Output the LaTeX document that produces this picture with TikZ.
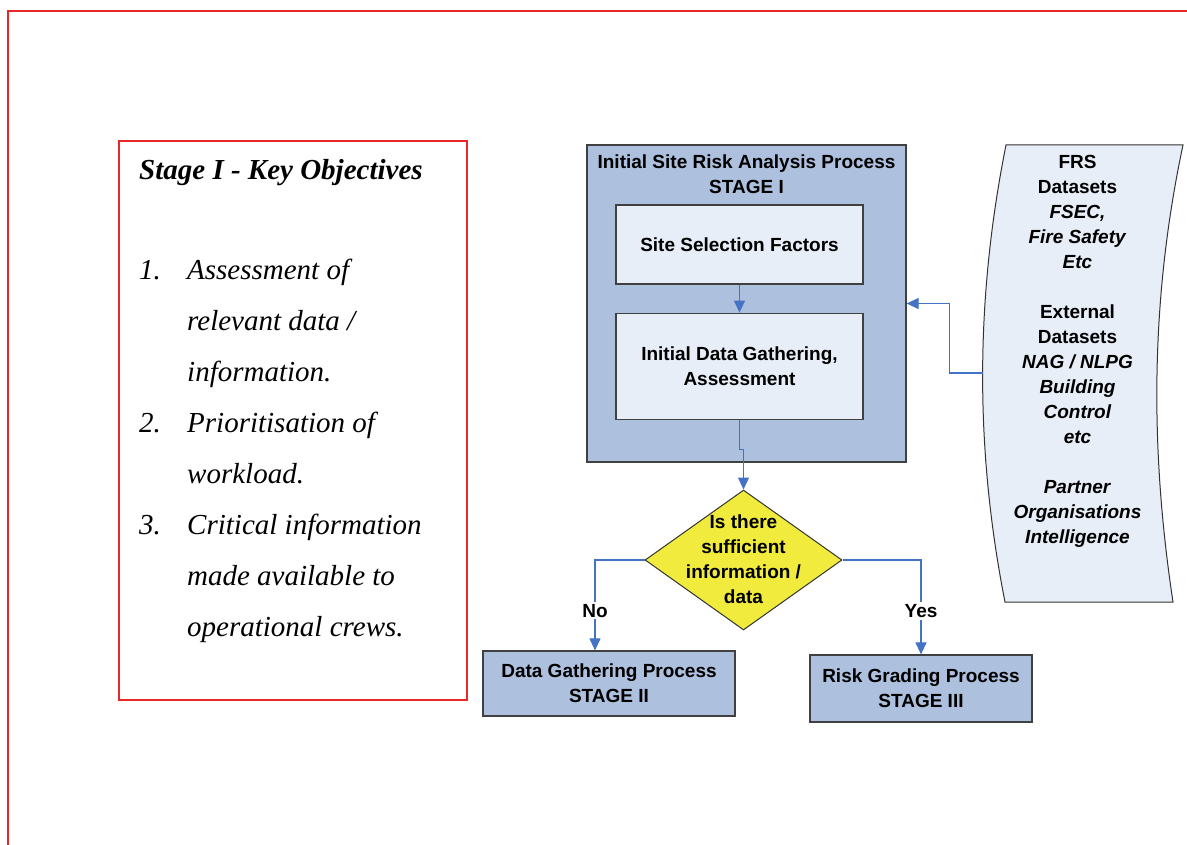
\documentclass[tikz,border=0pt]{standalone}
\usepackage{fontspec}
\setmainfont{Liberation Serif}
\setsansfont{Liberation Sans}
\usetikzlibrary{
  	positioning,
  	arrows.meta,
  	shapes.geometric,
  	calc
  }
\definecolor{stageblue}{RGB}{173,192,222}
\definecolor{paleblue}{RGB}{232,238,247}
\definecolor{flowblue}{RGB}{68,114,196}
\definecolor{framered}{RGB}{232,40,40}
\definecolor{checkyellow}{RGB}{240,235,60}
\tikzstyle{sanstext}=[font=\sffamily\bfseries\fontsize{19}{25}\selectfont,align=center]
\tikzstyle{stagebox}=[draw=black!75,fill=stageblue,line width=1.2pt,inner sep=0pt,sanstext]
\tikzstyle{taskbox}=[draw=black!75,fill=paleblue,line width=1.2pt,inner sep=0pt,sanstext]
\tikzstyle{checkbox}=[diamond,draw=black!80,fill=checkyellow,line width=1pt,inner sep=0pt,minimum width=197pt,minimum height=140pt]
\tikzstyle{flow}=[flowblue,line width=1.1pt,-{Triangle[length=12pt,width=11pt]}]
\tikzstyle{flowlabel}=[fill=white,text=black,inner sep=2pt,sanstext]

\begin{document}
\begin{tikzpicture}[x=1pt,y=-1pt]
  \useasboundingbox (0,0) rectangle (1187,845);
  \draw [framered,line width=1.5pt] (8,845) -- (8,11) -- (1187,11);
%
  \node [draw=framered,line width=1.5pt,minimum width=348pt,minimum height=559pt] (obj) at (293,420.5) {};
  \node [anchor=base west,inner sep=0pt,font=\bfseries\itshape\fontsize{29}{35}\selectfont] (objtitle) at (139,180) {Stage I - Key Objectives};
  \node [anchor=base west,inner sep=0pt,font=\itshape\fontsize{29}{51}\selectfont] (objlist) at (139,280)
    {\begin{tabular}[t]{@{}p{48pt}@{}l@{}}
       1. & Assessment of\\
          & relevant data /\\
          & information.\\
       2. & Prioritisation of\\
          & workload.\\
       3. & Critical information\\
          & made available to\\
          & operational crews.
     \end{tabular}};
%
  \node [stagebox,minimum width=319pt,minimum height=317pt] (stage1) at (746.5,303.5) {};
  \node [sanstext] (stage1title) at (746.5,174) {Initial Site Risk Analysis Process\\STAGE I};
  \node [taskbox,minimum width=247pt,minimum height=79pt] (site) at (739.5,244.5) {Site Selection Factors};
  \node [taskbox,minimum width=247pt,minimum height=106pt,below=28pt of site] (gather) {Initial Data Gathering,\\Assessment};
  \draw [flow] (site) -- (gather);
%
  \node [checkbox] (check) at (743.5,560) {};
  \node [sanstext] (checktext) at (743.5,559) {Is there\\sufficient\\information /\\data};
  \draw [flow] (gather.south) -- ++(0,30) -| (check.north);
%
  \node [stagebox,minimum width=252pt,minimum height=65pt] (stage2) at (609,683.5) {Data Gathering Process\\STAGE II};
  \node [stagebox,minimum width=222pt,minimum height=67pt] (stage3) at (921,688.5) {Risk Grading Process\\STAGE III};
  \draw [flow] (check.west) -| node [flowlabel,pos=0.78] {No} ([xshift=-14pt]stage2.north);
  \draw [flow] (check.east) -| node [flowlabel,pos=0.77] {Yes} (stage3.north);
%
  \draw [draw=black!80,fill=paleblue,line width=1pt]
     (1006,145) -- (1183,145)
     .. controls (1150,300) and (1150,450) .. (1173,602) --
     (1005,602)
     .. controls (975,450) and (975,300) .. (1006,145) --
     cycle;
  \coordinate (dsin) at (982.5,373);
  \node [sanstext] (datasets) at (1077.5,351) {FRS\\Datasets\\\textit{FSEC,}\\\textit{Fire Safety}\\\textit{Etc}\\[25pt]
    External\\Datasets\\\textit{NAG / NLPG}\\\textit{Building}\\\textit{Control}\\\textit{etc}\\[25pt]
    \textit{Partner}\\\textit{Organisations}\\\textit{Intelligence}};
  \draw [flow] (dsin) -- ++(-33,0) |- (stage1.east);
\end{tikzpicture}
\end{document}
